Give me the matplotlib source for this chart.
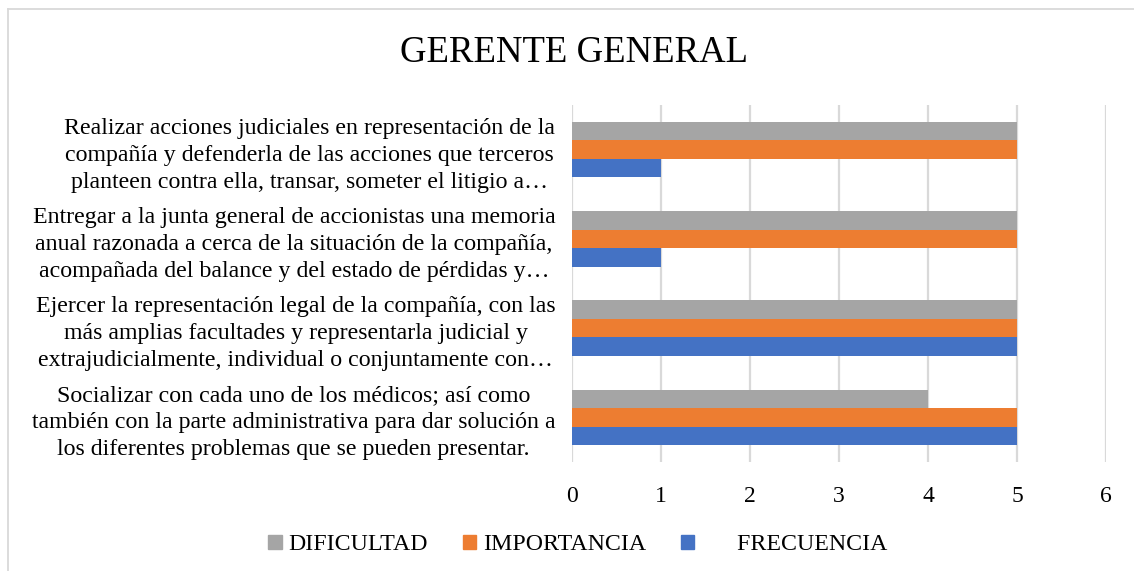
import matplotlib
matplotlib.use("Agg")
import matplotlib.pyplot as plt
from matplotlib.lines import Line2D
from matplotlib.patches import Patch
import numpy as np

plt.rcParams['font.family'] = ['Liberation Serif', 'DejaVu Serif']

title = "GERENTE GENERAL"
categories = [
    "Socializar con cada uno de los médicos; así como\ntambién con la parte administrativa para dar solución a\nlos diferentes problemas que se pueden presentar.",
    "Ejercer la representación legal de la compañía, con las\nmás amplias facultades y representarla judicial y\nextrajudicialmente, individual o conjuntamente con…",
    "Entregar a la junta general de accionistas una memoria\nanual razonada a cerca de la situación de la compañía,\nacompañada del balance y del estado de pérdidas y…",
    "Realizar acciones judiciales en representación de la\ncompañía y defenderla de las acciones que terceros\nplanteen contra ella, transar, someter el litigio a…",
]
series_names = ["DIFICULTAD", "IMPORTANCIA", "FRECUENCIA"]
dificultad = [4, 5, 5, 5]
importancia = [5, 5, 5, 5]
frecuencia = [5, 5, 1, 1]
colors = {"DIFICULTAD": "#A5A5A5", "IMPORTANCIA": "#ED7D31", "FRECUENCIA": "#4472C4"}
xticks = [0, 1, 2, 3, 4, 5, 6]

W, H = 1134, 571
fig = plt.figure(figsize=(W / 100, H / 100), dpi=100)
ax = fig.add_axes([572 / W, 1 - 462 / H, (1106 - 572) / W, (462 - 105) / H])

y = np.arange(len(categories))
h = 0.207
ax.barh(y - h, frecuencia, height=h, color=colors["FRECUENCIA"], zorder=3)
ax.barh(y, importancia, height=h, color=colors["IMPORTANCIA"], zorder=3)
ax.barh(y + h, dificultad, height=h, color=colors["DIFICULTAD"], zorder=3)

ax.set_xlim(0, 6)
ax.set_ylim(-0.5, len(categories) - 0.5)
ax.set_xticks(xticks)
ax.set_xticklabels([str(v) for v in xticks])
ax.set_yticks(y)
ax.set_yticklabels(categories)
ax.tick_params(axis='both', length=0, labelsize=17, colors='#000000')
ax.tick_params(axis='x', pad=17)
ax.tick_params(axis='y', pad=12)
for t in ax.get_yticklabels():
    t.set_multialignment('center')
    t.set_linespacing(1.38)
    t.set_fontsize(17.2)
ax.grid(axis='x', color='#D9D9D9', linewidth=1.6, zorder=0)
ax.set_axisbelow(True)
for s in ax.spines.values():
    s.set_visible(False)

fig.text(574 / W, 1 - 53 / H, title, ha='center', va='center', fontsize=26.5)

# chart border (left and top edges)
fig.add_artist(Line2D([7.5 / W, 7.5 / W], [0, 1 - 9 / H], transform=fig.transFigure, color='#D9D9D9', lw=1.3))
fig.add_artist(Line2D([7.5 / W, 1], [1 - 9 / H, 1 - 9 / H], transform=fig.transFigure, color='#D9D9D9', lw=1.3))

handles = [Patch(color=colors[n]) for n in series_names]
labels = ["DIFICULTAD", "IMPORTANCIA", "      FRECUENCIA"]
fig.legend(handles, labels, loc='center', bbox_to_anchor=(578 / W, 1 - 545 / H), ncol=3,
           frameon=False, fontsize=17.2, handlelength=0.55, handleheight=0.55,
           handletextpad=0.3, columnspacing=1.45)

fig.savefig("out.png", dpi=100)
